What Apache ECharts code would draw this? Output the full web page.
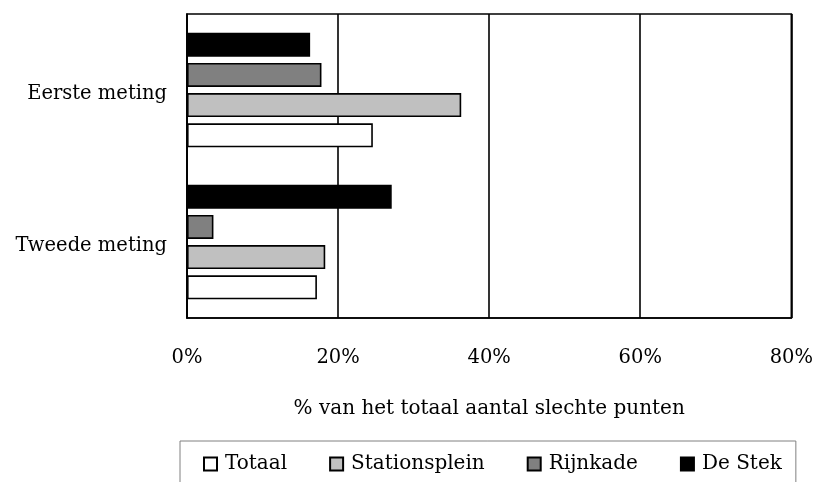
<!DOCTYPE html>
<html>
<head>
<meta charset="utf-8">
<script src="https://cdn.jsdelivr.net/npm/echarts@6/dist/echarts.min.js"></script>
<style>
  html, body { margin: 0; padding: 0; background: #fff; }
  #chart { width: 816px; height: 482px; }
</style>
</head>
<body>
<div id="chart"></div>
<script>
// Measurement rounds (top to bottom on the chart)
const categories = ['Eerste meting', 'Tweede meting'];

// Share of all bad points per location, in percent
const seriesNames = ['Totaal', 'Stationsplein', 'Rijnkade', 'De Stek'];
const totaal = [24.6, 17.2];
const stationsplein = [36.3, 18.3];
const rijnkade = [17.8, 3.5];
const deStek = [16.3, 27.1];

// X axis ticks
const xTicks = [0, 20, 40, 60, 80];
const xTitle = '% van het totaal aantal slechte punten';

const fills = {
  'Totaal': '#ffffff',
  'Stationsplein': '#c0c0c0',
  'Rijnkade': '#808080',
  'De Stek': '#000000'
};
const valuesByName = {
  'Totaal': totaal,
  'Stationsplein': stationsplein,
  'Rijnkade': rijnkade,
  'De Stek': deStek
};

const FONT = 'DejaVu Serif';

const chart = echarts.init(document.getElementById('chart'), null, { renderer: 'canvas' });

// Bars stack top-down in series order, so De Stek goes first and Totaal last
const series = seriesNames.slice().reverse().map(name => ({
  name: name,
  type: 'bar',
  data: valuesByName[name],
  barWidth: 24,
  barGap: '26%',
  itemStyle: {
    color: fills[name],
    borderColor: '#000',
    borderWidth: 1.6
  },
  emphasis: { disabled: true },
  animation: false
}));

chart.setOption({
  animation: false,
  textStyle: { fontFamily: FONT, color: '#000' },
  grid: {
    left: 187, right: 24, top: 14, bottom: 164,
    show: true,
    borderColor: '#000',
    borderWidth: 1.6,
    backgroundColor: 'transparent'
  },
  legend: {
    data: seriesNames,
    left: 180,
    top: 441,
    orient: 'horizontal',
    icon: 'rect',
    itemWidth: 13,
    itemHeight: 13,
    itemGap: 42,
    padding: [13, 14, 20, 23],
    borderColor: '#808080',
    borderWidth: 1,
    selectedMode: false,
    textStyle: { fontFamily: FONT, fontSize: 20, color: '#000', padding: [0, 0, 0, 3] }
  },
  xAxis: {
    type: 'value',
    min: xTicks[0],
    max: xTicks[xTicks.length - 1],
    interval: xTicks[1] - xTicks[0],
    name: xTitle,
    nameLocation: 'middle',
    nameGap: 81,
    nameTextStyle: { fontFamily: FONT, fontSize: 20, color: '#000' },
    axisLine: { show: true, lineStyle: { color: '#000', width: 1.6 } },
    axisTick: { show: false },
    axisLabel: {
      formatter: '{value}%',
      margin: 30,
      fontFamily: FONT,
      fontSize: 19.5,
      color: '#000'
    },
    splitLine: { show: true, lineStyle: { color: '#000', width: 1.6 } }
  },
  yAxis: {
    type: 'category',
    data: categories,
    inverse: true,
    axisLine: { show: true, lineStyle: { color: '#000', width: 1.6 } },
    axisTick: { show: false },
    axisLabel: {
      margin: 20,
      formatter: '{c|{value}}',
      rich: {
        c: {
          fontFamily: FONT,
          fontSize: 19.5,
          color: '#000',
          padding: [8, 0, 0, 0]
        }
      }
    },
    splitLine: { show: false }
  },
  series: series
});
</script>
</body>
</html>
